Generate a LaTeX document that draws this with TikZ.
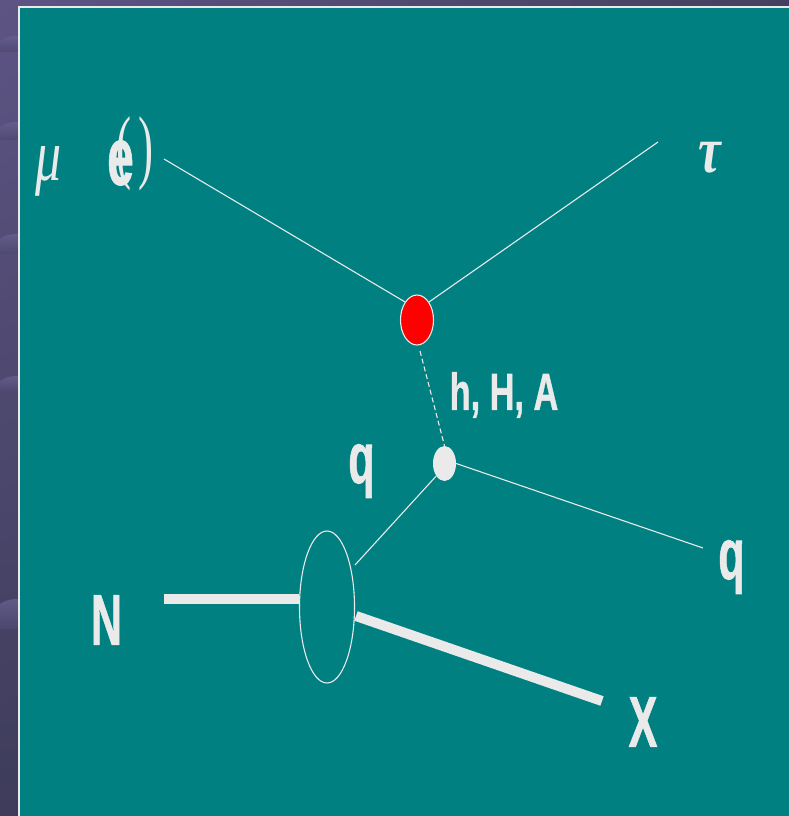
\documentclass[tikz,border=0pt]{standalone}
\usepackage{fontspec}
\setmainfont{Liberation Sans}
\newfontfamily\labfont[UprightFont=* Bold,UprightFeatures={FakeBold=1.2}]{Liberation Sans}
\newfontfamily\serifit{Liberation Serif}
\usetikzlibrary{shapes.geometric,shadings}
\definecolor{teal0}{HTML}{008080}
\definecolor{ink}{HTML}{EAEAEA}
\definecolor{slateul}{HTML}{5D5484}
\definecolor{slateur}{HTML}{45405F}
\definecolor{slateml}{HTML}{4C4870}
\definecolor{slatell}{HTML}{3E3C5A}
\definecolor{blob}{HTML}{686090}
\tikzset{
  glyph/.style={text=ink,inner sep=0pt},
  lab/.style={glyph,font=\labfont\fontsize{72}{72}\selectfont,xscale=.6},
  thin line/.style={draw=ink,line width=1.1pt},
  thick line/.style={draw=ink,line width=10pt},
}
\begin{document}
\begin{tikzpicture}[x=1pt,y=-1pt]
\useasboundingbox (0,0) rectangle (789,816);
\shade[upper left=slateul,upper right=slateur,lower left=slatell,lower right=slatell] (0,0) rectangle (789,816);
\foreach \yy/\hh in {36/16,122/18,234/20,376/16,599/30}{
  \shade[top color=blob,bottom color=slateml,opacity=.8]
    (0,\yy+\hh) -- (0,\yy+5) .. controls (5,\yy+1) and (11,\yy) .. (19,\yy) -- (19,\yy+\hh) -- cycle;
}
\fill[teal0,draw=ink,line width=1.1pt] (19,7) rectangle (795,822);
\node[glyph,font=\serifit\itshape\fontsize{74}{74}\selectfont,xscale=.7] (mu) at (49,171) {μ};
\node[glyph,font=\serifit\fontsize{82}{82}\selectfont,xscale=.55] (lp) at (124.5,154) {(};
\node[glyph,font=\serifit\fontsize{82}{82}\selectfont,xscale=.55] (rp) at (146,154) {)};
\node[glyph,font=\labfont\fontsize{82}{82}\selectfont,xscale=.58] (e) at (120.5,163) {e};
\node[glyph,font=\serifit\bfseries\itshape\fontsize{60}{60}\selectfont,xscale=.85,yscale=1.1] (tau) at (710,158) {τ};
\node[ellipse,minimum width=33pt,minimum height=50pt,inner sep=0pt,fill=red,draw=ink,line width=1.1pt] (v1) at (417,320) {};
\node[ellipse,minimum width=23pt,minimum height=35pt,inner sep=0pt,fill=ink,draw=none] (v2) at (444.5,463.5) {};
\node[ellipse,minimum width=55pt,minimum height=152pt,inner sep=0pt,draw=ink,line width=1.1pt] (blobN) at (327,607) {};
\node[glyph,font=\labfont\fontsize{52}{52}\selectfont,xscale=.66] (hha) at (504,395) {h, H, A};
\node[lab] (q1) at (361.5,471) {q};
\node[lab] (q2) at (731.5,567) {q};
\node[lab] (N) at (106.5,620) {N};
\node[lab] (X) at (643,722) {X};
\coordinate (a) at (164,159);
\coordinate (b) at (658,142);
\coordinate (c) at (703,548);
\coordinate (d) at (164,599);
\coordinate (f) at (602,701);
\coordinate (g) at (355,565);
\coordinate (h) at (356,616);
\coordinate (i) at (420,351);
\draw[thin line] (a) -- (v1.north west);
\draw[thin line] (b) -- (v1.north east);
\draw[thin line] (v2.east) -- (c);
\draw[thin line] (g) -- (v2.south west);
\draw[thin line,dash pattern=on 5pt off 3pt] (i) -- (v2.north);
\draw[thick line] (d) -- (blobN.west |- d);
\draw[thick line] (h) -- (f);
\end{tikzpicture}
\end{document}
